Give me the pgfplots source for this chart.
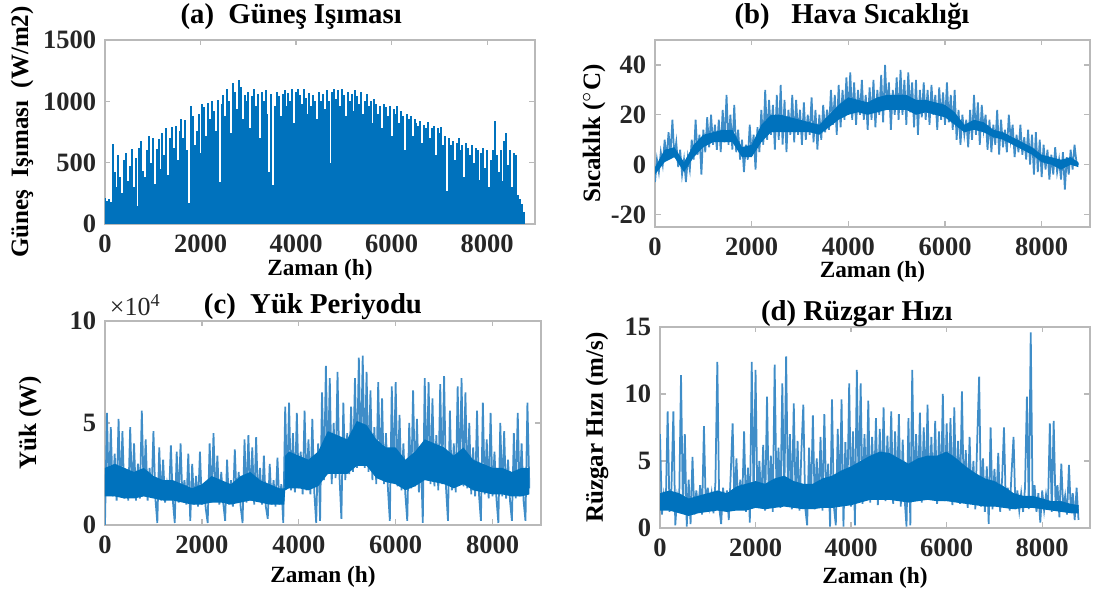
\documentclass[border=0pt]{standalone}
\usepackage{fontspec}
\setmainfont{Liberation Serif}
\usepackage{pgfplots}
\pgfplotsset{compat=1.18}
\definecolor{mblue}{HTML}{0072BD}
\definecolor{lblue}{HTML}{3F8DC8}
\pgfplotsset{
  panel/.style={
    scale only axis, anchor=south west,
    xmin=0, xmax=9000, xtick={0,2000,4000,6000,8000},
    tick align=inside, major tick length=2.2pt,
    axis line style={gray!55, line width=0.5pt},
    every tick/.style={gray!55, line width=0.5pt},
    /pgf/number format/assume math mode=true,
    /pgf/number format/1000 sep={},
    tick label style={font=\bfseries\fontsize{10.6}{12}\selectfont, text=black!85},
    xticklabel style={yshift=-0.8pt},
    xlabel style={font=\bfseries\fontsize{9.3}{11}\selectfont, anchor=center},
    ylabel style={font=\bfseries\fontsize{10}{12}\selectfont, anchor=center},
    title style={font=\bfseries\fontsize{11.5}{13}\selectfont, anchor=center},
    xlabel={Zaman (h)},
  },
  sig/.style={lblue, line width=0.7pt, no marks},
  core/.style={fill=mblue, draw=none, no marks},
}
\begin{document}
\begin{tikzpicture}
\useasboundingbox (0,0) rectangle (439.6pt,238pt);

% (a) solar irradiance
\begin{axis}[panel, at={(42pt,148.4pt)}, width=172pt, height=73.6pt,
  ymin=0, ymax=1500, ytick={0,500,1000,1500},
  ylabel={Güneş\ \ Işıması\ \ (W/m2)},
  ylabel style={at={(axis description cs:-0.193,0.5)}},
  xlabel style={at={(axis description cs:0.5,-0.25)}},
  title={(a)\enspace Güneş Işıması},
  title style={at={(axis description cs:0.433,1.048)}}]
\addplot[ycomb, mblue, line width=0.8pt, no marks] coordinates {
(0,210)(40,190)(80,200)(120,180)(160,650)(200,420)(240,300)(280,560)(320,380)(360,250)
(400,520)(440,580)(480,350)(520,470)(560,610)(600,300)(640,540)(680,150)(720,620)(760,680)
(800,430)(840,380)(880,600)(920,720)(960,500)(1000,700)(1040,330)(1080,610)(1120,690)(1160,450)
(1200,740)(1240,560)(1280,780)(1320,400)(1360,700)(1400,790)(1440,620)(1480,800)(1520,520)(1560,760)
(1600,860)(1640,700)(1680,850)(1720,600)(1760,170)(1800,960)(1840,880)(1880,640)(1920,760)(1960,900)
(2000,580)(2040,980)(2080,950)(2120,720)(2160,990)(2200,860)(2240,1000)(2280,920)(2320,760)(2360,1010)
(2400,340)(2440,980)(2480,1050)(2520,880)(2560,1100)(2600,1000)(2640,740)(2680,1150)(2720,1080)(2760,940)
(2800,1170)(2840,1120)(2880,860)(2920,1050)(2960,1000)(3000,1080)(3040,780)(3080,1040)(3120,1100)(3160,960)
(3200,1060)(3240,700)(3280,1080)(3320,1000)(3360,1090)(3400,900)(3440,420)(3480,1060)(3520,320)(3560,960)
(3600,1080)(3640,1040)(3680,880)(3720,1060)(3760,1090)(3800,960)(3840,1070)(3880,1000)(3920,1100)(3960,820)
(4000,1080)(4040,1100)(4080,1050)(4120,980)(4160,1100)(4200,1030)(4240,900)(4280,1070)(4320,960)(4360,1050)
(4400,1000)(4440,860)(4480,1080)(4520,1000)(4560,1060)(4600,940)(4640,1090)(4680,1000)(4720,500)(4760,1080)
(4800,1100)(4840,1020)(4880,1090)(4920,960)(4960,1100)(5000,1050)(5040,880)(5080,1080)(5120,1000)(5160,1060)
(5200,920)(5240,1090)(5280,1040)(5320,980)(5360,1080)(5400,900)(5440,1000)(5480,1060)(5520,960)(5560,1000)
(5600,820)(5640,1020)(5680,980)(5720,900)(5760,960)(5800,780)(5840,980)(5880,950)(5920,880)(5960,960)
(6000,720)(6040,940)(6080,900)(6120,960)(6160,820)(6200,920)(6240,880)(6280,600)(6320,900)(6360,860)
(6400,880)(6440,720)(6480,860)(6520,820)(6560,800)(6600,840)(6640,660)(6680,810)(6720,780)(6760,830)
(6800,700)(6840,780)(6880,800)(6920,560)(6960,780)(7000,740)(7040,790)(7080,640)(7120,720)(7160,270)
(7200,700)(7240,640)(7280,680)(7320,520)(7360,660)(7400,700)(7440,600)(7480,640)(7520,380)(7560,660)
(7600,620)(7640,560)(7680,640)(7720,500)(7760,620)(7800,600)(7840,360)(7880,580)(7920,620)(7960,460)
(8000,600)(8040,300)(8080,520)(8120,600)(8160,840)(8200,560)(8240,420)(8280,600)(8320,350)(8360,680)
(8400,740)(8440,480)(8480,600)(8520,300)(8560,580)(8600,560)(8640,240)(8680,200)(8720,160)(8760,100)};
\end{axis}

% (b) air temperature
\begin{axis}[panel, at={(262pt,147.2pt)}, width=174pt, height=74.8pt,
  ymin=-25, ymax=50, ytick={-20,0,20,40},
  ylabel={Sıcaklık ($^{\circ}$C)},
  ylabel style={at={(axis description cs:-0.14,0.5)}},
  xlabel style={at={(axis description cs:0.5,-0.241)}},
  title={(b)\enspace\ Hava Sıcaklığı},
  title style={at={(axis description cs:0.453,1.043)}}]
\addplot[sig] coordinates {
(0,-7)(40,2)(80,-3)(120,5)(160,0)(200,10)(240,2)(280,13)(320,4)(360,18)
(400,3)(440,9)(480,-1)(520,6)(560,-4)(600,2)(640,-7)(680,3)(720,-2)(760,10)
(800,2)(840,18)(880,4)(920,12)(960,-4)(1000,14)(1040,5)(1080,19)(1120,7)(1160,20)
(1200,8)(1240,16)(1280,6)(1320,18)(1360,5)(1400,22)(1440,9)(1480,28)(1520,8)(1560,20)
(1600,6)(1640,24)(1680,5)(1720,14)(1760,2)(1800,10)(1840,-3)(1880,8)(1920,2)(1960,16)
(2000,4)(2040,12)(2080,-2)(2120,15)(2160,5)(2200,22)(2240,8)(2280,30)(2320,10)(2360,26)
(2400,12)(2440,24)(2480,6)(2520,28)(2560,10)(2600,32)(2640,8)(2680,26)(2720,5)(2760,22)
(2800,12)(2840,28)(2880,9)(2920,26)(2960,12)(3000,22)(3040,8)(3080,25)(3120,10)(3160,20)
(3200,12)(3240,27)(3280,9)(3320,22)(3360,6)(3400,20)(3440,10)(3480,24)(3520,13)(3560,22)
(3600,14)(3640,30)(3680,16)(3720,28)(3760,12)(3800,32)(3840,15)(3880,30)(3920,18)(3960,35)
(4000,20)(4040,37)(4080,18)(4120,33)(4160,16)(4200,30)(4240,20)(4280,34)(4320,18)(4360,28)
(4400,14)(4440,31)(4480,18)(4520,34)(4560,15)(4600,30)(4640,20)(4680,36)(4720,17)(4760,40)
(4800,22)(4840,33)(4880,14)(4920,30)(4960,20)(5000,35)(5040,18)(5080,38)(5120,20)(5160,34)
(5200,16)(5240,37)(5280,21)(5320,33)(5360,15)(5400,34)(5440,12)(5480,30)(5520,19)(5560,33)
(5600,18)(5640,30)(5680,16)(5720,32)(5760,20)(5800,28)(5840,14)(5880,31)(5920,18)(5960,29)
(6000,16)(6040,33)(6080,17)(6120,28)(6160,14)(6200,30)(6240,10)(6280,22)(6320,8)(6360,20)
(6400,12)(6440,18)(6480,7)(6520,22)(6560,10)(6600,28)(6640,12)(6680,25)(6720,8)(6760,24)
(6800,14)(6840,20)(6880,6)(6920,18)(6960,5)(7000,16)(7040,8)(7080,22)(7120,4)(7160,18)
(7200,7)(7240,14)(7280,5)(7320,20)(7360,10)(7400,16)(7440,3)(7480,12)(7520,5)(7560,16)
(7600,4)(7640,11)(7680,2)(7720,14)(7760,0)(7800,12)(7840,-4)(7880,13)(7920,-3)(7960,10)
(8000,-5)(8040,8)(8080,-2)(8120,6)(8160,-6)(8200,4)(8240,-4)(8280,7)(8320,-3)(8360,2)
(8400,-6)(8440,5)(8480,-10)(8520,3)(8560,-4)(8600,6)(8640,-2)(8680,8)(8720,1)(8760,0)};
% dense core of the band: upper edge, then lower edge back
\addplot[core] coordinates {
(0,-1)(200,6)(400,7)(600,1)(800,8)(1000,12)(1200,13)(1400,14)(1600,14)(1800,7)
(2000,8)(2200,16)(2400,20)(2600,20)(2800,19)(3000,18)(3200,17)(3400,16)(3600,20)(3800,24)
(4000,27)(4200,26)(4400,25)(4600,27)(4800,28)(5000,28)(5200,28)(5400,26)(5600,26)(5800,25)
(6000,24)(6200,21)(6400,16)(6600,18)(6800,17)(7000,14)(7200,13)(7400,11)(7600,9)(7800,7)
(8000,4)(8200,3)(8400,2)(8600,3)(8760,1)
(8760,-1)(8600,0)(8400,-2)(8200,0)(8000,1)(7800,4)(7600,6)(7400,8)(7200,10)(7000,11)
(6800,13)(6600,14)(6400,13)(6200,16)(6000,19)(5800,20)(5600,21)(5400,20)(5200,22)(5000,22)
(4800,22)(4600,21)(4400,20)(4200,21)(4000,20)(3800,18)(3600,15)(3400,12)(3200,13)(3000,13)
(2800,13)(2600,13)(2400,13)(2200,9)(2000,3)(1800,3)(1600,9)(1400,9)(1200,9)(1000,7)
(800,3)(600,-3)(400,3)(200,1)(0,-4)};
\end{axis}

% (c) load, in units of 10^4 W
\begin{axis}[panel, at={(42pt,28pt)}, width=174.4pt, height=81.6pt,
  ymin=0, ymax=10, ytick={0,5,10},
  ylabel={Yük (W)},
  ylabel style={at={(axis description cs:-0.172,0.5)}},
  xlabel style={at={(axis description cs:0.5,-0.255)}},
  title={(c)\enspace Yük Periyodu},
  title style={at={(axis description cs:0.477,0.995)}},
  extra description/.code={
    \node[anchor=south west, inner sep=0pt, font=\fontsize{10.4}{12}\selectfont, text=black!85]
      at (0.01,1.025) {×10\textsuperscript{4}};}]
\addplot[sig] coordinates {
(0,0)(40,5.5)(80,1.5)(120,4.8)(160,1.4)(200,3.5)(240,1.2)(280,5.2)(320,1.5)(360,4.6)
(400,1.3)(440,2.5)(480,1.2)(520,4.8)(560,1.4)(600,4.0)(640,1.2)(680,3.0)(720,1.3)(760,5.6)
(800,1.5)(840,4.2)(880,1.2)(920,2.8)(960,1.4)(1000,4.6)(1040,1.3)(1080,0.1)(1120,3.8)(1160,1.2)
(1200,3.2)(1240,1.1)(1280,2.0)(1320,1.3)(1360,3.9)(1400,1.2)(1440,0.1)(1480,3.6)(1520,1.1)(1560,4.0)
(1600,1.2)(1640,2.2)(1680,1.0)(1720,3.5)(1760,0.2)(1800,3.0)(1840,1.0)(1880,2.4)(1920,0.9)(1960,3.6)
(2000,1.0)(2040,2.0)(2080,0.8)(2120,0.1)(2160,4.0)(2200,1.1)(2240,4.5)(2280,1.2)(2320,3.4)(2360,1.0)
(2400,2.6)(2440,1.1)(2480,0.2)(2520,3.2)(2560,1.0)(2600,2.2)(2640,0.9)(2680,3.7)(2720,1.1)(2760,2.6)
(2800,0.9)(2840,0.1)(2880,4.2)(2920,1.1)(2960,4.4)(3000,1.2)(3040,3.8)(3080,1.0)(3120,4.3)(3160,1.2)
(3200,2.8)(3240,1.0)(3280,3.4)(3320,0.9)(3360,0.3)(3400,3.0)(3440,1.0)(3480,2.2)(3520,0.9)(3560,3.3)
(3600,1.0)(3640,2.0)(3680,0.1)(3720,5.8)(3760,1.8)(3800,6.0)(3840,1.7)(3880,4.5)(3920,1.6)(3960,5.5)
(4000,1.8)(4040,3.6)(4080,1.5)(4120,5.6)(4160,1.7)(4200,4.2)(4240,1.5)(4280,5.2)(4320,1.6)(4360,0.1)
(4400,4.0)(4440,0.2)(4480,6.5)(4520,2.2)(4560,7.8)(4600,2.5)(4640,7.2)(4680,2.0)(4720,5.0)(4760,2.3)
(4800,7.5)(4840,2.4)(4880,0.3)(4920,6.0)(4960,2.2)(5000,4.5)(5040,2.5)(5080,5.8)(5120,2.6)(5160,7.2)
(5200,2.8)(5240,8.2)(5280,3.0)(5320,8.3)(5360,2.8)(5400,7.5)(5440,2.6)(5480,6.6)(5520,2.2)(5560,4.8)
(5600,2.0)(5640,7.0)(5680,2.3)(5720,6.2)(5760,2.0)(5800,4.5)(5840,1.8)(5880,0.2)(5920,6.8)(5960,2.1)
(6000,7.0)(6040,1.9)(6080,5.4)(6120,1.7)(6160,4.0)(6200,1.5)(6240,0.2)(6280,5.0)(6320,1.8)(6360,6.6)
(6400,1.9)(6440,5.2)(6480,1.6)(6520,3.5)(6560,0.1)(6600,7.2)(6640,2.2)(6680,7.0)(6720,2.0)(6760,6.2)
(6800,1.9)(6840,4.4)(6880,1.7)(6920,6.9)(6960,2.0)(7000,7.3)(7040,1.8)(7080,0.2)(7120,5.6)(7160,1.7)
(7200,4.0)(7240,1.6)(7280,6.8)(7320,2.0)(7360,7.2)(7400,1.9)(7440,6.5)(7480,1.8)(7520,5.0)(7560,1.5)
(7600,3.8)(7640,1.4)(7680,5.6)(7720,1.5)(7760,0.2)(7800,6.0)(7840,1.5)(7880,4.2)(7920,1.3)(7960,5.5)
(8000,1.4)(8040,3.6)(8080,1.3)(8120,0.1)(8160,5.0)(8200,1.4)(8240,4.6)(8280,1.3)(8320,3.2)(8360,1.2)
(8400,0.2)(8440,4.5)(8480,1.3)(8520,5.5)(8560,1.4)(8600,4.0)(8640,1.2)(8680,0.2)(8720,6.0)(8760,1.8)};
\addplot[core] coordinates {
(0,2.8)(200,3.0)(400,2.8)(600,2.6)(800,2.8)(1000,2.4)(1200,2.2)(1400,2.2)(1600,2.0)(1800,1.8)
(2000,2.0)(2200,2.4)(2400,2.2)(2600,2.0)(2800,2.4)(3000,2.6)(3200,2.2)(3400,2.0)(3600,1.8)(3700,1.8)
(3720,3.4)(3800,3.6)(4000,3.4)(4200,3.2)(4400,3.6)(4600,4.6)(4800,4.4)(5000,4.2)(5200,5.1)(5400,4.9)
(5600,4.2)(5800,3.8)(6000,3.8)(6200,3.2)(6400,3.6)(6600,4.2)(6800,4.0)(7000,3.8)(7200,3.4)(7400,3.8)
(7600,3.2)(7800,3.0)(8000,2.8)(8200,2.8)(8400,2.6)(8600,2.8)(8760,2.8)
(8760,1.5)(8600,1.4)(8400,1.4)(8200,1.5)(8000,1.5)(7800,1.6)(7600,1.7)(7400,2.0)(7200,1.8)(7000,2.0)
(6800,2.1)(6600,2.2)(6400,1.9)(6200,1.7)(6000,2.0)(5800,2.1)(5600,2.3)(5400,2.9)(5200,2.9)(5000,2.5)
(4800,2.5)(4600,2.5)(4400,1.9)(4200,1.7)(4000,1.8)(3800,1.8)(3720,1.7)(3700,1.0)(3600,1.0)(3400,1.0)
(3200,1.1)(3000,1.2)(2800,1.1)(2600,1.0)(2400,1.1)(2200,1.1)(2000,1.0)(1800,1.0)(1600,1.1)(1400,1.2)
(1200,1.2)(1000,1.3)(800,1.4)(600,1.3)(400,1.3)(200,1.4)(0,1.4)};
\end{axis}

% (d) wind speed
\begin{axis}[panel, at={(264pt,26.8pt)}, width=172pt, height=80.4pt,
  ymin=0, ymax=15, ytick={0,5,10,15},
  ylabel={Rüzgar Hızı (m/s)},
  ylabel style={at={(axis description cs:-0.1465,0.5)}},
  xlabel style={at={(axis description cs:0.5,-0.249)}},
  title={(d) Rüzgar Hızı},
  title style={at={(axis description cs:0.458,0.99)}}]
\addplot[sig] coordinates {
(0,7.0)(40,1.0)(80,2.5)(120,1.5)(160,8.7)(200,1.2)(240,3.0)(280,8.7)(320,0.2)(360,2.4)
(400,1.6)(440,11.4)(480,1.2)(520,7.0)(560,0.1)(600,3.6)(640,0.3)(680,5.3)(720,1.0)(760,2.8)
(800,1.4)(840,3.2)(880,1.0)(920,7.6)(960,1.3)(1000,3.0)(1040,1.6)(1080,2.6)(1120,1.1)(1160,3.4)
(1200,12.4)(1240,1.5)(1280,0.3)(1320,3.0)(1360,1.4)(1400,2.8)(1440,0.6)(1480,4.0)(1520,7.8)(1560,1.6)
(1600,5.2)(1640,1.4)(1680,3.6)(1720,1.8)(1760,7.2)(1800,1.2)(1840,4.5)(1880,0.4)(1920,12.4)(1960,2.0)
(2000,11.8)(2040,1.5)(2080,5.0)(2120,1.8)(2160,6.2)(2200,1.3)(2240,9.8)(2280,1.6)(2320,5.4)(2360,1.2)
(2400,12.2)(2440,2.0)(2480,6.0)(2520,1.5)(2560,10.8)(2600,1.8)(2640,12.8)(2680,2.2)(2720,7.0)(2760,1.4)
(2800,9.3)(2840,1.7)(2880,6.5)(2920,1.3)(2960,5.8)(3000,9.2)(3040,1.5)(3080,0.2)(3120,6.0)(3160,1.8)
(3200,8.4)(3240,1.4)(3280,5.2)(3320,1.9)(3360,6.8)(3400,1.3)(3440,8.5)(3480,2.0)(3520,4.8)(3560,0.1)
(3600,9.6)(3640,1.6)(3680,0.2)(3720,7.4)(3760,1.8)(3800,9.6)(3840,0.1)(3880,6.4)(3920,2.0)(3960,10.8)
(4000,1.6)(4040,7.2)(4080,0.2)(4120,11.8)(4160,2.2)(4200,10.8)(4240,1.8)(4280,7.0)(4320,2.4)(4360,9.5)
(4400,1.9)(4440,6.8)(4480,2.6)(4520,8.2)(4560,1.7)(4600,7.4)(4640,2.5)(4680,9.0)(4720,2.0)(4760,6.9)
(4800,2.8)(4840,8.7)(4880,1.8)(4920,7.2)(4960,2.4)(5000,8.5)(5040,1.6)(5080,6.6)(5120,2.2)(5160,0.1)
(5200,8.2)(5240,0.2)(5280,11.8)(5320,2.0)(5360,7.0)(5400,2.6)(5440,8.6)(5480,1.9)(5520,7.5)(5560,2.7)
(5600,9.2)(5640,2.1)(5680,6.8)(5720,2.4)(5760,8.0)(5800,1.8)(5840,7.2)(5880,2.5)(5920,10.0)(5960,2.0)
(6000,7.8)(6040,2.3)(6080,8.2)(6120,1.7)(6160,9.0)(6200,2.2)(6240,6.5)(6280,1.8)(6320,10.2)(6360,2.0)
(6400,5.8)(6440,1.5)(6480,6.8)(6520,1.9)(6560,5.0)(6600,1.4)(6640,6.6)(6680,11.3)(6720,1.6)(6760,5.2)
(6800,1.2)(6840,4.6)(6880,0.3)(6920,7.5)(6960,1.4)(7000,4.4)(7040,1.8)(7080,5.6)(7120,1.2)(7160,3.6)
(7200,7.5)(7240,1.5)(7280,3.0)(7320,1.3)(7360,4.2)(7400,6.8)(7440,1.4)(7480,2.8)(7520,1.3)(7560,2.6)
(7600,1.2)(7640,3.0)(7680,9.8)(7720,1.4)(7760,14.6)(7800,1.6)(7840,3.2)(7880,1.2)(7920,2.6)(7960,0.4)
(8000,2.8)(8040,1.3)(8080,2.5)(8120,1.5)(8160,7.8)(8200,1.2)(8240,8.0)(8280,1.6)(8320,3.2)(8360,0.8)
(8400,4.8)(8440,1.4)(8480,2.4)(8520,1.0)(8560,4.7)(8600,1.2)(8640,2.6)(8680,0.6)(8720,3.0)(8760,0.6)};
\addplot[core] coordinates {
(0,2.6)(200,2.8)(400,2.6)(600,2.2)(800,2.4)(1000,2.6)(1200,2.8)(1400,2.6)(1600,3.1)(1800,3.3)
(2000,3.5)(2200,3.3)(2400,3.7)(2600,3.9)(2800,3.5)(3000,3.3)(3200,3.3)(3400,3.7)(3600,3.9)(3800,4.3)
(4000,4.6)(4200,5.0)(4400,5.4)(4600,5.7)(4800,5.6)(5000,5.2)(5200,4.8)(5400,5.2)(5600,5.4)(5800,5.4)
(6000,5.7)(6200,5.2)(6400,4.6)(6600,4.1)(6800,3.7)(7000,3.5)(7200,3.1)(7400,2.6)(7600,2.4)(7800,2.4)
(8000,2.2)(8200,2.0)(8400,2.0)(8600,1.8)(8760,1.7)
(8760,1.1)(8600,1.1)(8400,1.2)(8200,1.3)(8000,1.4)(7800,1.5)(7600,1.5)(7400,1.4)(7200,1.5)(7000,1.6)
(6800,1.6)(6600,1.7)(6400,1.8)(6200,1.9)(6000,2.0)(5800,2.0)(5600,2.1)(5400,2.0)(5200,1.9)(5000,2.0)
(4800,2.1)(4600,2.1)(4400,2.1)(4200,1.9)(4000,1.7)(3800,1.6)(3600,1.5)(3400,1.5)(3200,1.4)(3000,1.4)
(2800,1.5)(2600,1.6)(2400,1.5)(2200,1.4)(2000,1.5)(1800,1.3)(1600,1.3)(1400,1.2)(1200,1.3)(1000,1.2)
(800,1.1)(600,0.9)(400,1.1)(200,1.3)(0,1.3)};
\end{axis}
\end{tikzpicture}
\end{document}
